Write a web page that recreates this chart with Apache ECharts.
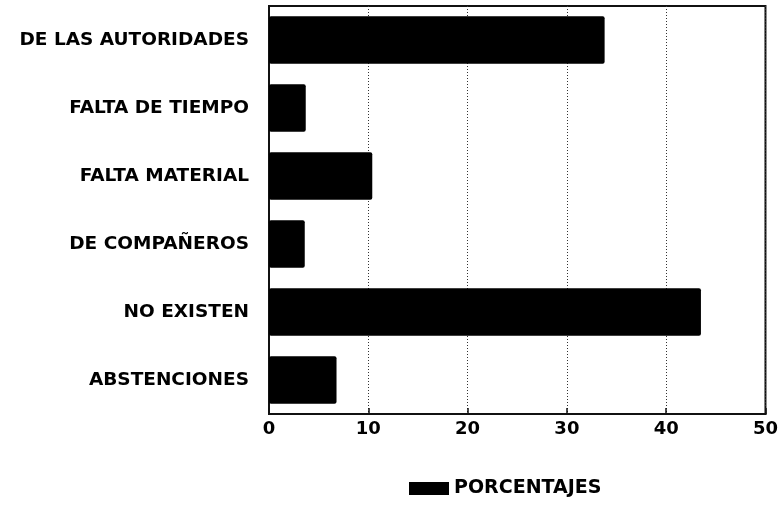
<!DOCTYPE html>
<html lang="es" style="height: 100%">
  <head>
    <meta charset="utf-8" />
  </head>
  <body style="height: 100%; margin: 0; overflow: hidden; background: #fff">
    <div id="container" style="width: 781px; height: 506px"></div>
    <script type="text/javascript" src="https://cdn.jsdelivr.net/npm/echarts@6/dist/echarts.min.js"></script>
    <script type="text/javascript">
      const dom = document.getElementById('container')
      const myChart = echarts.init(dom, null, { renderer: 'canvas' })

      // categorias de abajo hacia arriba (el eje y invierte el orden)
      const categorias = [
        'ABSTENCIONES',
        'NO EXISTEN',
        'DE COMPAÑEROS',
        'FALTA MATERIAL',
        'FALTA DE TIEMPO',
        'DE LAS AUTORIDADES',
      ]
      const porcentajes = [6.8, 43.5, 3.6, 10.4, 3.7, 33.8]
      const ticksX = [0, 10, 20, 30, 40, 50]

      const fuente = '"DejaVu Sans", Arial, sans-serif'

      const option = {
        animation: false,
        backgroundColor: '#fff',
        grid: {
          left: 269,
          right: 15,
          top: 6,
          bottom: 92,
          show: true,
          borderColor: '#111',
          borderWidth: 2,
        },
        legend: {
          top: 474,
          left: 404,
          itemWidth: 40,
          itemHeight: 13,
          itemGap: 5,
          icon: 'rect',
          textStyle: {
            fontFamily: fuente,
            fontWeight: 'bold',
            fontSize: 19,
            color: '#000',
          },
          data: ['PORCENTAJES'],
        },
        xAxis: {
          type: 'value',
          min: ticksX[0],
          max: ticksX[ticksX.length - 1],
          interval: 10,
          axisLine: { show: true, lineStyle: { color: '#111', width: 2 } },
          axisTick: { show: true, inside: true, length: 6, lineStyle: { color: '#111', width: 1.5 } },
          splitLine: { show: true, lineStyle: { color: '#333', type: [1, 2], width: 1 } },
          axisLabel: {
            margin: 6,
            fontFamily: fuente,
            fontWeight: 'bold',
            fontSize: 18,
            color: '#000',
          },
        },
        yAxis: {
          type: 'category',
          data: categorias,
          axisLine: { show: true, lineStyle: { color: '#111', width: 2 } },
          axisTick: { show: false },
          axisLabel: {
            margin: 20,
            fontFamily: fuente,
            fontWeight: 'bold',
            fontSize: 18.5,
            color: '#000',
          },
        },
        series: [
          {
            name: 'PORCENTAJES',
            type: 'bar',
            data: porcentajes,
            barWidth: '70%',
            itemStyle: { color: '#000', borderRadius: 2 },
          },
        ],
      }

      myChart.setOption(option)
      window.addEventListener('resize', myChart.resize)
    </script>
  </body>
</html>
